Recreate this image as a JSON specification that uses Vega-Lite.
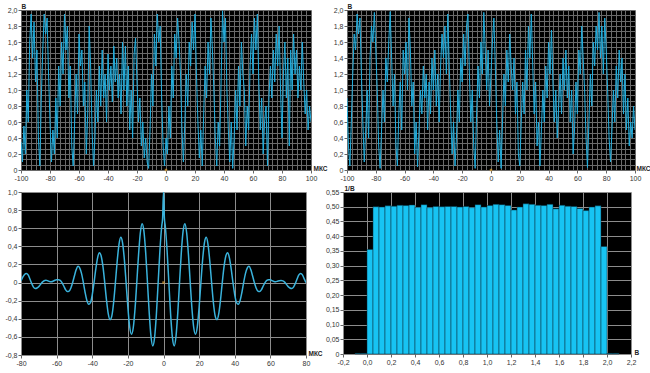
{
"$schema": "https://vega.github.io/schema/vega-lite/v6.json",
"background": "white",
"padding": {"left": 4, "top": 3, "right": 0, "bottom": 2},
"config": {
  "view": {"fill": "black", "stroke": null},
  "axis": {"labelFont": "Liberation Sans", "labelFontSize": 7, "labelColor": "#333", "titleFont": "Liberation Sans", "titleFontSize": 6.5, "titleFontWeight": "bold", "titleColor": "#222", "domain": false, "tickColor": "#666", "tickSize": 3, "labelPadding": 1, "labelFlush": false, "labelOverlap": false, "titleAngle": 0, "titlePadding": 0}
},
"datasets": {
"tl": [{"t":-100,"v":0.35},{"t":-99,"v":0.1},{"t":-98,"v":0.55},{"t":-97,"v":0.2},{"t":-96,"v":1.0},{"t":-95,"v":0.6},{"t":-94,"v":1.6},{"t":-93,"v":1.95},{"t":-92,"v":1.4},{"t":-91,"v":1.85},{"t":-90,"v":1.1},{"t":-89,"v":1.5},{"t":-88,"v":0.4},{"t":-87,"v":0.05},{"t":-86,"v":0.9},{"t":-85,"v":1.5},{"t":-84,"v":1.95},{"t":-83,"v":1.7},{"t":-82,"v":1.9},{"t":-81,"v":1.2},{"t":-80,"v":0.6},{"t":-79,"v":0.1},{"t":-78,"v":0.5},{"t":-77,"v":0.2},{"t":-76,"v":0.9},{"t":-75,"v":0.4},{"t":-74,"v":1.3},{"t":-73,"v":0.8},{"t":-72,"v":1.6},{"t":-71,"v":1.2},{"t":-70,"v":1.95},{"t":-69,"v":1.5},{"t":-68,"v":1.8},{"t":-67,"v":0.9},{"t":-66,"v":1.3},{"t":-65,"v":0.3},{"t":-64,"v":0.05},{"t":-63,"v":0.6},{"t":-62,"v":1.2},{"t":-61,"v":0.7},{"t":-60,"v":1.7},{"t":-59,"v":1.3},{"t":-58,"v":1.5},{"t":-57,"v":0.8},{"t":-56,"v":1.1},{"t":-55,"v":0.2},{"t":-54,"v":0.7},{"t":-53,"v":1.8},{"t":-52,"v":1.3},{"t":-51,"v":0.5},{"t":-50,"v":0.05},{"t":-49,"v":0.4},{"t":-48,"v":1.0},{"t":-47,"v":0.6},{"t":-46,"v":1.3},{"t":-45,"v":0.8},{"t":-44,"v":1.5},{"t":-43,"v":0.9},{"t":-42,"v":1.2},{"t":-41,"v":0.6},{"t":-40,"v":1.45},{"t":-39,"v":1.0},{"t":-38,"v":1.3},{"t":-37,"v":0.85},{"t":-36,"v":1.55},{"t":-35,"v":1.1},{"t":-34,"v":1.4},{"t":-33,"v":0.9},{"t":-32,"v":1.2},{"t":-31,"v":0.7},{"t":-30,"v":1.6},{"t":-29,"v":1.0},{"t":-28,"v":1.55},{"t":-27,"v":0.8},{"t":-26,"v":1.3},{"t":-25,"v":0.5},{"t":-24,"v":1.0},{"t":-23,"v":0.4},{"t":-22,"v":1.45},{"t":-21,"v":1.65},{"t":-20,"v":1.1},{"t":-19,"v":0.6},{"t":-18,"v":0.9},{"t":-17,"v":0.3},{"t":-16,"v":0.6},{"t":-15,"v":0.15},{"t":-14,"v":0.4},{"t":-13,"v":0.1},{"t":-12,"v":0.02},{"t":-11,"v":0.5},{"t":-10,"v":1.2},{"t":-9,"v":0.8},{"t":-8,"v":1.7},{"t":-7,"v":1.3},{"t":-6,"v":1.95},{"t":-5,"v":1.6},{"t":-4,"v":1.8},{"t":-3,"v":0.9},{"t":-2,"v":0.3},{"t":-1,"v":0.05},{"t":0,"v":0.4},{"t":1,"v":0.2},{"t":2,"v":0.8},{"t":3,"v":0.4},{"t":4,"v":1.3},{"t":5,"v":0.9},{"t":6,"v":1.7},{"t":7,"v":1.4},{"t":8,"v":1.9},{"t":9,"v":1.6},{"t":10,"v":1.2},{"t":11,"v":0.5},{"t":12,"v":0.1},{"t":13,"v":0.6},{"t":14,"v":1.2},{"t":15,"v":0.8},{"t":16,"v":1.6},{"t":17,"v":1.3},{"t":18,"v":1.85},{"t":19,"v":1.5},{"t":20,"v":1.95},{"t":21,"v":1.2},{"t":22,"v":0.6},{"t":23,"v":0.15},{"t":24,"v":0.5},{"t":25,"v":0.05},{"t":26,"v":0.7},{"t":27,"v":1.3},{"t":28,"v":0.9},{"t":29,"v":1.6},{"t":30,"v":1.2},{"t":31,"v":1.9},{"t":32,"v":1.5},{"t":33,"v":1.0},{"t":34,"v":0.4},{"t":35,"v":0.05},{"t":36,"v":0.6},{"t":37,"v":0.3},{"t":38,"v":1.1},{"t":39,"v":1.99},{"t":40,"v":1.6},{"t":41,"v":1.9},{"t":42,"v":1.0},{"t":43,"v":0.5},{"t":44,"v":0.1},{"t":45,"v":0.6},{"t":46,"v":0.02},{"t":47,"v":0.4},{"t":48,"v":1.0},{"t":49,"v":0.5},{"t":50,"v":1.3},{"t":51,"v":0.8},{"t":52,"v":1.6},{"t":53,"v":1.2},{"t":54,"v":1.0},{"t":55,"v":0.3},{"t":56,"v":0.8},{"t":57,"v":0.5},{"t":58,"v":1.3},{"t":59,"v":1.7},{"t":60,"v":1.2},{"t":61,"v":1.9},{"t":62,"v":1.5},{"t":63,"v":1.95},{"t":64,"v":1.1},{"t":65,"v":0.5},{"t":66,"v":0.9},{"t":67,"v":0.2},{"t":68,"v":0.6},{"t":69,"v":0.8},{"t":70,"v":0.05},{"t":71,"v":0.9},{"t":72,"v":1.3},{"t":73,"v":0.9},{"t":74,"v":1.5},{"t":75,"v":1.1},{"t":76,"v":1.7},{"t":77,"v":1.3},{"t":78,"v":1.8},{"t":79,"v":1.0},{"t":80,"v":0.4},{"t":81,"v":1.2},{"t":82,"v":1.6},{"t":83,"v":0.9},{"t":84,"v":1.4},{"t":85,"v":0.3},{"t":86,"v":1.5},{"t":87,"v":1.0},{"t":88,"v":1.7},{"t":89,"v":1.2},{"t":90,"v":1.5},{"t":91,"v":0.9},{"t":92,"v":1.3},{"t":93,"v":1.0},{"t":94,"v":1.6},{"t":95,"v":1.1},{"t":96,"v":0.7},{"t":97,"v":1.0},{"t":98,"v":0.5},{"t":99,"v":0.8},{"t":100,"v":0.6}],
"tr": [{"t":-100,"v":0.9},{"t":-99,"v":0.3},{"t":-98,"v":0.05},{"t":-97,"v":0.6},{"t":-96,"v":1.2},{"t":-95,"v":1.7},{"t":-94,"v":1.5},{"t":-93,"v":1.95},{"t":-92,"v":1.7},{"t":-91,"v":1.9},{"t":-90,"v":1.2},{"t":-89,"v":0.6},{"t":-88,"v":0.1},{"t":-87,"v":0.5},{"t":-86,"v":1.0},{"t":-85,"v":0.4},{"t":-84,"v":1.4},{"t":-83,"v":1.8},{"t":-82,"v":1.6},{"t":-81,"v":1.97},{"t":-80,"v":1.5},{"t":-79,"v":1.0},{"t":-78,"v":0.3},{"t":-77,"v":0.02},{"t":-76,"v":0.5},{"t":-75,"v":1.0},{"t":-74,"v":0.6},{"t":-73,"v":1.4},{"t":-72,"v":1.1},{"t":-71,"v":1.6},{"t":-70,"v":1.98},{"t":-69,"v":1.4},{"t":-68,"v":0.8},{"t":-67,"v":1.2},{"t":-66,"v":0.3},{"t":-65,"v":0.05},{"t":-64,"v":0.7},{"t":-63,"v":1.1},{"t":-62,"v":0.5},{"t":-61,"v":1.5},{"t":-60,"v":1.2},{"t":-59,"v":1.6},{"t":-58,"v":1.0},{"t":-57,"v":1.9},{"t":-56,"v":1.5},{"t":-55,"v":0.8},{"t":-54,"v":1.1},{"t":-53,"v":0.2},{"t":-52,"v":0.6},{"t":-51,"v":0.04},{"t":-50,"v":0.5},{"t":-49,"v":1.0},{"t":-48,"v":0.7},{"t":-47,"v":1.3},{"t":-46,"v":0.9},{"t":-45,"v":1.2},{"t":-44,"v":0.5},{"t":-43,"v":1.1},{"t":-42,"v":0.7},{"t":-41,"v":1.4},{"t":-40,"v":1.0},{"t":-39,"v":1.5},{"t":-38,"v":0.8},{"t":-37,"v":1.2},{"t":-36,"v":0.6},{"t":-35,"v":1.3},{"t":-34,"v":1.7},{"t":-33,"v":1.4},{"t":-32,"v":1.8},{"t":-31,"v":1.2},{"t":-30,"v":1.95},{"t":-29,"v":1.3},{"t":-28,"v":0.7},{"t":-27,"v":0.2},{"t":-26,"v":0.6},{"t":-25,"v":0.05},{"t":-24,"v":0.4},{"t":-23,"v":1.0},{"t":-22,"v":0.6},{"t":-21,"v":1.4},{"t":-20,"v":1.1},{"t":-19,"v":1.7},{"t":-18,"v":1.3},{"t":-17,"v":1.8},{"t":-16,"v":1.95},{"t":-15,"v":1.2},{"t":-14,"v":0.6},{"t":-13,"v":1.0},{"t":-12,"v":0.3},{"t":-11,"v":0.02},{"t":-10,"v":0.7},{"t":-9,"v":1.3},{"t":-8,"v":0.9},{"t":-7,"v":1.6},{"t":-6,"v":1.2},{"t":-5,"v":1.97},{"t":-4,"v":1.5},{"t":-3,"v":1.0},{"t":-2,"v":1.5},{"t":-1,"v":0.8},{"t":0,"v":1.2},{"t":1,"v":1.6},{"t":2,"v":1.9},{"t":3,"v":1.3},{"t":4,"v":0.6},{"t":5,"v":0.1},{"t":6,"v":0.5},{"t":7,"v":0.02},{"t":8,"v":0.6},{"t":9,"v":1.2},{"t":10,"v":0.8},{"t":11,"v":1.5},{"t":12,"v":1.1},{"t":13,"v":1.7},{"t":14,"v":1.3},{"t":15,"v":1.0},{"t":16,"v":1.4},{"t":17,"v":0.7},{"t":18,"v":1.1},{"t":19,"v":0.2},{"t":20,"v":0.05},{"t":21,"v":0.6},{"t":22,"v":1.1},{"t":23,"v":0.7},{"t":24,"v":1.5},{"t":25,"v":1.0},{"t":26,"v":1.8},{"t":27,"v":1.4},{"t":28,"v":1.95},{"t":29,"v":1.3},{"t":30,"v":0.7},{"t":31,"v":1.1},{"t":32,"v":0.3},{"t":33,"v":0.6},{"t":34,"v":0.05},{"t":35,"v":0.5},{"t":36,"v":1.0},{"t":37,"v":0.6},{"t":38,"v":1.3},{"t":39,"v":0.9},{"t":40,"v":1.6},{"t":41,"v":1.2},{"t":42,"v":1.75},{"t":43,"v":1.1},{"t":44,"v":0.6},{"t":45,"v":1.0},{"t":46,"v":0.4},{"t":47,"v":0.8},{"t":48,"v":1.2},{"t":49,"v":0.7},{"t":50,"v":1.4},{"t":51,"v":1.0},{"t":52,"v":1.5},{"t":53,"v":0.9},{"t":54,"v":1.3},{"t":55,"v":0.6},{"t":56,"v":1.0},{"t":57,"v":0.2},{"t":58,"v":0.5},{"t":59,"v":1.1},{"t":60,"v":0.7},{"t":61,"v":1.5},{"t":62,"v":1.2},{"t":63,"v":1.8},{"t":64,"v":1.4},{"t":65,"v":1.0},{"t":66,"v":0.4},{"t":67,"v":0.03},{"t":68,"v":0.6},{"t":69,"v":1.2},{"t":70,"v":0.8},{"t":71,"v":1.6},{"t":72,"v":1.3},{"t":73,"v":1.8},{"t":74,"v":1.5},{"t":75,"v":1.97},{"t":76,"v":1.4},{"t":77,"v":1.8},{"t":78,"v":1.2},{"t":79,"v":1.9},{"t":80,"v":1.5},{"t":81,"v":1.0},{"t":82,"v":0.4},{"t":83,"v":0.1},{"t":84,"v":0.5},{"t":85,"v":1.0},{"t":86,"v":0.6},{"t":87,"v":1.3},{"t":88,"v":0.9},{"t":89,"v":1.5},{"t":90,"v":1.1},{"t":91,"v":1.4},{"t":92,"v":0.7},{"t":93,"v":1.2},{"t":94,"v":0.5},{"t":95,"v":0.9},{"t":96,"v":0.3},{"t":97,"v":0.6},{"t":98,"v":0.4},{"t":99,"v":0.8},{"t":100,"v":0.5}],
"ac": [{"t":-80,"v":0.02},{"t":-79,"v":0.06},{"t":-78,"v":0.09},{"t":-77,"v":0.1},{"t":-76,"v":0.085},{"t":-75,"v":0.04},{"t":-74,"v":-0.01},{"t":-73,"v":-0.05},{"t":-72,"v":-0.065},{"t":-71,"v":-0.06},{"t":-70,"v":-0.045},{"t":-69,"v":-0.02},{"t":-68,"v":0.005},{"t":-67,"v":0.02},{"t":-66,"v":0.025},{"t":-65,"v":0.02},{"t":-64,"v":0.012},{"t":-63,"v":0.01},{"t":-62,"v":0.015},{"t":-61,"v":0.025},{"t":-60,"v":0.03},{"t":-59,"v":0.03},{"t":-58,"v":0.023},{"t":-57,"v":0},{"t":-56,"v":-0.038},{"t":-55,"v":-0.078},{"t":-54,"v":-0.1},{"t":-53,"v":-0.095},{"t":-52,"v":-0.06},{"t":-51,"v":0},{"t":-50,"v":0.075},{"t":-49,"v":0.143},{"t":-48,"v":0.18},{"t":-47,"v":0.16},{"t":-46,"v":0.098},{"t":-45,"v":0},{"t":-44,"v":-0.11},{"t":-43,"v":-0.199},{"t":-42,"v":-0.24},{"t":-41,"v":-0.221},{"t":-40,"v":-0.135},{"t":-39,"v":0},{"t":-38,"v":0.15},{"t":-37,"v":0.273},{"t":-36,"v":0.33},{"t":-35,"v":0.294},{"t":-34,"v":0.178},{"t":-33,"v":0},{"t":-32,"v":-0.193},{"t":-31,"v":-0.346},{"t":-30,"v":-0.41},{"t":-29,"v":-0.368},{"t":-28,"v":-0.22},{"t":-27,"v":0},{"t":-26,"v":0.235},{"t":-25,"v":0.42},{"t":-24,"v":0.5},{"t":-23,"v":0.442},{"t":-22,"v":0.26},{"t":-21,"v":0},{"t":-20,"v":-0.273},{"t":-19,"v":-0.485},{"t":-18,"v":-0.57},{"t":-17,"v":-0.502},{"t":-16,"v":-0.295},{"t":-15,"v":0},{"t":-14,"v":0.31},{"t":-13,"v":0.55},{"t":-12,"v":0.65},{"t":-11,"v":0.567},{"t":-10,"v":0.33},{"t":-9,"v":0},{"t":-8,"v":-0.34},{"t":-7,"v":-0.598},{"t":-6,"v":-0.7},{"t":-5,"v":-0.606},{"t":-4,"v":-0.352},{"t":-3,"v":0},{"t":-2,"v":0.357},{"t":-1,"v":0.622},{"t":-0.5,"v":0.71},{"t":0,"v":1.0},{"t":0.5,"v":0.71},{"t":1,"v":0.622},{"t":2,"v":0.357},{"t":3,"v":0},{"t":4,"v":-0.352},{"t":5,"v":-0.606},{"t":6,"v":-0.7},{"t":7,"v":-0.598},{"t":8,"v":-0.34},{"t":9,"v":0},{"t":10,"v":0.33},{"t":11,"v":0.567},{"t":12,"v":0.65},{"t":13,"v":0.55},{"t":14,"v":0.31},{"t":15,"v":0},{"t":16,"v":-0.295},{"t":17,"v":-0.502},{"t":18,"v":-0.57},{"t":19,"v":-0.485},{"t":20,"v":-0.273},{"t":21,"v":0},{"t":22,"v":0.26},{"t":23,"v":0.442},{"t":24,"v":0.5},{"t":25,"v":0.42},{"t":26,"v":0.235},{"t":27,"v":0},{"t":28,"v":-0.22},{"t":29,"v":-0.368},{"t":30,"v":-0.41},{"t":31,"v":-0.346},{"t":32,"v":-0.193},{"t":33,"v":0},{"t":34,"v":0.178},{"t":35,"v":0.294},{"t":36,"v":0.33},{"t":37,"v":0.273},{"t":38,"v":0.15},{"t":39,"v":0},{"t":40,"v":-0.135},{"t":41,"v":-0.221},{"t":42,"v":-0.24},{"t":43,"v":-0.199},{"t":44,"v":-0.11},{"t":45,"v":0},{"t":46,"v":0.098},{"t":47,"v":0.16},{"t":48,"v":0.18},{"t":49,"v":0.143},{"t":50,"v":0.075},{"t":51,"v":0},{"t":52,"v":-0.06},{"t":53,"v":-0.095},{"t":54,"v":-0.1},{"t":55,"v":-0.078},{"t":56,"v":-0.038},{"t":57,"v":0},{"t":58,"v":0.023},{"t":59,"v":0.03},{"t":60,"v":0.03},{"t":61,"v":0.02},{"t":62,"v":0.012},{"t":63,"v":0.01},{"t":64,"v":0.015},{"t":65,"v":0.02},{"t":66,"v":0.022},{"t":67,"v":0.018},{"t":68,"v":0.005},{"t":69,"v":-0.02},{"t":70,"v":-0.045},{"t":71,"v":-0.06},{"t":72,"v":-0.065},{"t":73,"v":-0.05},{"t":74,"v":-0.01},{"t":75,"v":0.04},{"t":76,"v":0.085},{"t":77,"v":0.1},{"t":78,"v":0.085},{"t":79,"v":0.04},{"t":80,"v":0.0}],
"hist": [{"a":-0.1,"b":-0.05,"h":0.002},{"a":-0.05,"b":0,"h":0.002},{"a":0,"b":0.05,"h":0.355},{"a":0.05,"b":0.1,"h":0.5},{"a":0.1,"b":0.15,"h":0.499},{"a":0.15,"b":0.2,"h":0.503},{"a":0.2,"b":0.25,"h":0.502},{"a":0.25,"b":0.3,"h":0.505},{"a":0.3,"b":0.35,"h":0.504},{"a":0.35,"b":0.4,"h":0.506},{"a":0.4,"b":0.45,"h":0.498},{"a":0.45,"b":0.5,"h":0.507},{"a":0.5,"b":0.55,"h":0.497},{"a":0.55,"b":0.6,"h":0.501},{"a":0.6,"b":0.65,"h":0.5},{"a":0.65,"b":0.7,"h":0.501},{"a":0.7,"b":0.75,"h":0.501},{"a":0.75,"b":0.8,"h":0.499},{"a":0.8,"b":0.85,"h":0.501},{"a":0.85,"b":0.9,"h":0.497},{"a":0.9,"b":0.95,"h":0.507},{"a":0.95,"b":1.0,"h":0.499},{"a":1.0,"b":1.05,"h":0.504},{"a":1.05,"b":1.1,"h":0.508},{"a":1.1,"b":1.15,"h":0.507},{"a":1.15,"b":1.2,"h":0.504},{"a":1.2,"b":1.25,"h":0.489},{"a":1.25,"b":1.3,"h":0.499},{"a":1.3,"b":1.35,"h":0.51},{"a":1.35,"b":1.4,"h":0.508},{"a":1.4,"b":1.45,"h":0.505},{"a":1.45,"b":1.5,"h":0.504},{"a":1.5,"b":1.55,"h":0.508},{"a":1.55,"b":1.6,"h":0.493},{"a":1.6,"b":1.65,"h":0.505},{"a":1.65,"b":1.7,"h":0.502},{"a":1.7,"b":1.75,"h":0.501},{"a":1.75,"b":1.8,"h":0.494},{"a":1.8,"b":1.85,"h":0.487},{"a":1.85,"b":1.9,"h":0.499},{"a":1.9,"b":1.95,"h":0.503},{"a":1.95,"b":2.0,"h":0.365},{"a":2.0,"b":2.05,"h":0.002},{"a":2.05,"b":2.1,"h":0.002}],
"mk": [{"t":0,"v":0}]
},
"spacing": 4,
"vconcat": [
{"hconcat": [
  {"width": 290, "height": 160,
   "encoding": {
      "x": {"field": "t", "type": "quantitative", "scale": {"domain": [-100, 100], "nice": false},
        "axis": {"title": "МКС", "titleX": 292, "titleY": -2, "titleAlign": "left", "titleBaseline": "middle", "grid": true, "gridColor": "#6a6a6a",
          "values": [-100,-96.667,-93.333,-90,-86.667,-83.333,-80,-76.667,-73.333,-70,-66.667,-63.333,-60,-56.667,-53.333,-50,-46.667,-43.333,-40,-36.667,-33.333,-30,-26.667,-23.333,-20,-16.667,-13.333,-10,-6.667,-3.333,0,3.333,6.667,10,13.333,16.667,20,23.333,26.667,30,33.333,36.667,40,43.333,46.667,50,53.333,56.667,60,63.333,66.667,70,73.333,76.667,80,83.333,86.667,90,93.333,96.667,100],
          "labelExpr": "abs(datum.value/20-round(datum.value/20))<0.01 ? ''+round(datum.value) : ''",
          "tickOpacity": {"condition": {"test": "abs(datum.value/20-round(datum.value/20))<0.01", "value": 1}, "value": 0}}},
      "y": {"field": "v", "type": "quantitative", "scale": {"domain": [0, 2], "nice": false},
        "axis": {"title": "В", "titleX": 0, "titleY": -1, "titleAlign": "left", "titleBaseline": "bottom", "grid": true, "gridColor": "#6a6a6a",
          "values": [0,0.0667,0.1333,0.2,0.2667,0.3333,0.4,0.4667,0.5333,0.6,0.6667,0.7333,0.8,0.8667,0.9333,1,1.0667,1.1333,1.2,1.2667,1.3333,1.4,1.4667,1.5333,1.6,1.6667,1.7333,1.8,1.8667,1.9333,2],
          "labelExpr": "abs(datum.value*5-round(datum.value*5))<0.01 ? (datum.value==0 ? '0' : replace(format(datum.value,'.1f'),'.',',')) : ''",
          "tickOpacity": {"condition": {"test": "abs(datum.value*5-round(datum.value*5))<0.01", "value": 1}, "value": 0}}}
   },
   "layer": [
    {"data": {"name": "tl"}, "mark": {"type": "line", "color": "#22aede", "strokeWidth": 1, "clip": true}},
    {"data": {"name": "mk"}, "mark": {"type": "point", "shape": "square", "size": 6, "filled": true, "color": "#e0a030"}}
   ]},
  {"width": 288, "height": 160,
   "encoding": {
      "x": {"field": "t", "type": "quantitative", "scale": {"domain": [-100, 100], "nice": false},
        "axis": {"title": "МКС", "titleX": 289, "titleY": -2, "titleAlign": "left", "titleBaseline": "middle", "grid": true, "gridColor": "#6a6a6a",
          "values": [-100,-96.667,-93.333,-90,-86.667,-83.333,-80,-76.667,-73.333,-70,-66.667,-63.333,-60,-56.667,-53.333,-50,-46.667,-43.333,-40,-36.667,-33.333,-30,-26.667,-23.333,-20,-16.667,-13.333,-10,-6.667,-3.333,0,3.333,6.667,10,13.333,16.667,20,23.333,26.667,30,33.333,36.667,40,43.333,46.667,50,53.333,56.667,60,63.333,66.667,70,73.333,76.667,80,83.333,86.667,90,93.333,96.667,100],
          "labelExpr": "abs(datum.value/20-round(datum.value/20))<0.01 ? ''+round(datum.value) : ''",
          "tickOpacity": {"condition": {"test": "abs(datum.value/20-round(datum.value/20))<0.01", "value": 1}, "value": 0}}},
      "y": {"field": "v", "type": "quantitative", "scale": {"domain": [0, 2], "nice": false},
        "axis": {"title": "В", "titleX": 0, "titleY": -1, "titleAlign": "left", "titleBaseline": "bottom", "grid": true, "gridColor": "#6a6a6a",
          "values": [0,0.0667,0.1333,0.2,0.2667,0.3333,0.4,0.4667,0.5333,0.6,0.6667,0.7333,0.8,0.8667,0.9333,1,1.0667,1.1333,1.2,1.2667,1.3333,1.4,1.4667,1.5333,1.6,1.6667,1.7333,1.8,1.8667,1.9333,2],
          "labelExpr": "abs(datum.value*5-round(datum.value*5))<0.01 ? (datum.value==0 ? '0' : replace(format(datum.value,'.1f'),'.',',')) : ''",
          "tickOpacity": {"condition": {"test": "abs(datum.value*5-round(datum.value*5))<0.01", "value": 1}, "value": 0}}}
   },
   "layer": [
    {"data": {"name": "tr"}, "mark": {"type": "line", "color": "#22aede", "strokeWidth": 1, "clip": true}},
    {"data": {"name": "mk"}, "mark": {"type": "point", "shape": "square", "size": 6, "filled": true, "color": "#e0a030"}}
   ]}
 ], "spacing": 36, "bounds": "flush"},
{"hconcat": [
  {"width": 285, "height": 163,
   "encoding": {
      "x": {"field": "t", "type": "quantitative", "scale": {"domain": [-80, 80], "nice": false},
        "axis": {"title": "МКС", "titleX": 287, "titleY": -2, "titleAlign": "left", "titleBaseline": "middle", "grid": true, "gridColor": "#8c8c8c",
          "values": [-80,-60,-40,-20,0,20,40,60,80], "labelExpr": "''+round(datum.value)"}},
      "y": {"field": "v", "type": "quantitative", "scale": {"domain": [-0.8, 1.0], "nice": false},
        "axis": {"title": null, "grid": true, "gridColor": "#8c8c8c",
          "values": [-0.8,-0.6,-0.4,-0.2,0,0.2,0.4,0.6,0.8,1.0],
          "labelExpr": "datum.value==0 ? '0' : (datum.value<0?'-':'') + replace(format(abs(datum.value),'.1f'),'.',',')"}}
   },
   "layer": [
    {"data": {"name": "ac"}, "mark": {"type": "line", "color": "#3ab3dc", "strokeWidth": 1.5, "interpolate": "monotone", "clip": true}},
    {"data": {"name": "mk"}, "mark": {"type": "point", "shape": "square", "size": 6, "filled": true, "color": "#e0a030"}}
   ]},
  {"width": 288, "height": 162,
   "data": {"name": "hist"},
   "mark": {"type": "bar", "color": "#17c4f3", "stroke": "#0b2f3d", "strokeWidth": 0.5},
   "encoding": {
    "x": {"field": "a", "type": "quantitative", "scale": {"domain": [-0.2, 2.2], "nice": false},
      "axis": {"title": "В", "titleX": 291, "titleY": -2, "titleAlign": "left", "titleBaseline": "middle", "grid": true, "gridColor": "#8c8c8c",
        "values": [-0.2,0,0.2,0.4,0.6,0.8,1.0,1.2,1.4,1.6,1.8,2.0,2.2],
        "labelExpr": "(datum.value<0?'-':'') + replace(format(abs(datum.value),'.1f'),'.',',')"}},
    "x2": {"field": "b"},
    "y": {"field": "h", "type": "quantitative", "scale": {"domain": [0, 0.55], "nice": false},
      "axis": {"title": "1/В", "titleX": 1, "titleY": -1, "titleAlign": "left", "titleBaseline": "bottom", "grid": true, "gridColor": "#8c8c8c",
        "values": [0,0.05,0.1,0.15,0.2,0.25,0.3,0.35,0.4,0.45,0.5,0.55],
        "labelExpr": "datum.value==0 ? '0' : replace(format(datum.value,'.2f'),'.',',')"}},
    "y2": {"datum": 0}
   }}
 ], "spacing": 37, "bounds": "flush"}
]
}
